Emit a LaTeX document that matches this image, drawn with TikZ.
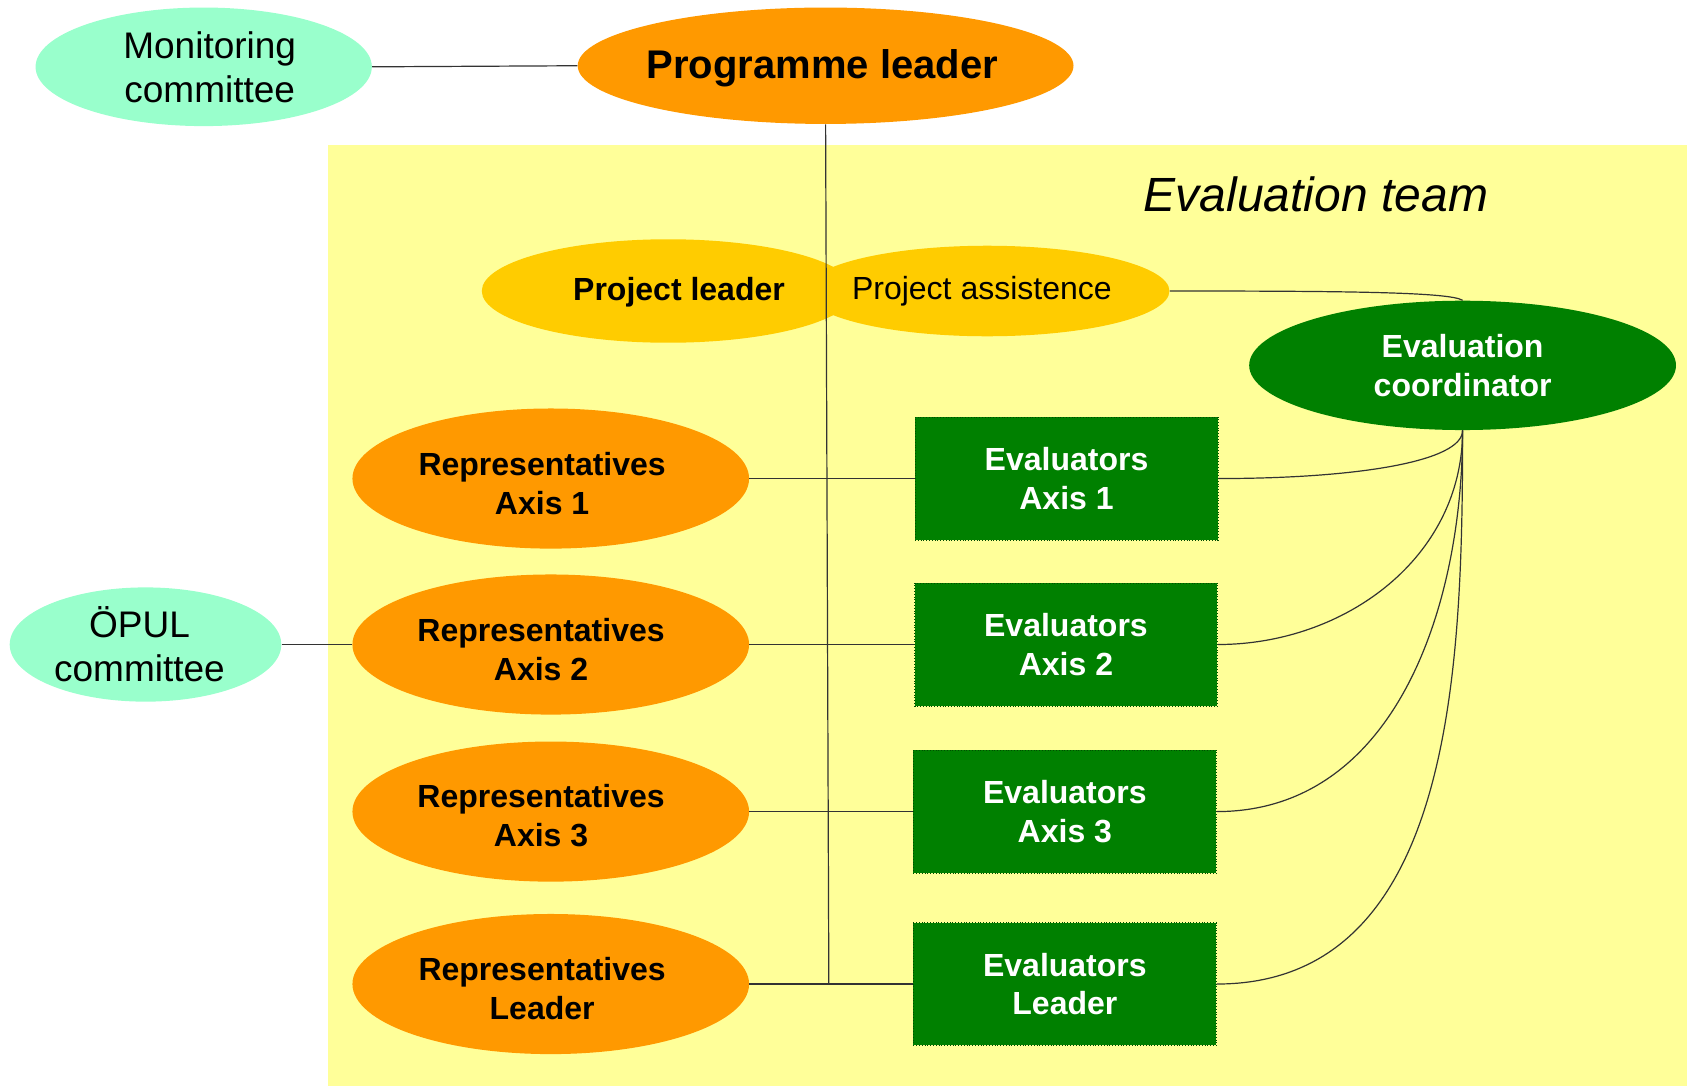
\documentclass[tikz,border=0pt]{standalone}
\usepackage{fontspec}
\setmainfont{Liberation Sans}
\usetikzlibrary{shapes.geometric}
\definecolor{bgyellow}{HTML}{FFFF99}
\definecolor{orangec}{HTML}{FF9900}
\definecolor{goldc}{HTML}{FFCC00}
\definecolor{greenc}{HTML}{008000}
\definecolor{mintc}{HTML}{99FFCC}
\def\pxu{0.53889pt}
\tikzset{
  ell/.style={ellipse, inner sep=0pt, align=center},
  mintell/.style={ell, fill=mintc, font=\fontsize{18.5}{22}\selectfont},
  repell/.style={ell, fill=orangec, minimum width=368*\pxu, minimum height=130*\pxu},
  reptext/.style={align=center, inner sep=0pt, font=\bfseries\fontsize{16}{19.4}\selectfont},
  evalbox/.style={rectangle, fill=greenc, draw=black!40!greenc, densely dotted, line width=0.4pt,
    text=white, font=\bfseries\fontsize{16}{19.4}\selectfont, align=center,
    minimum width=281*\pxu, minimum height=114*\pxu, inner sep=0pt},
  conn/.style={line width=0.6pt, draw=black!80},
}
\begin{document}
\begin{tikzpicture}[x=0.53889pt, y=-0.53889pt]
\useasboundingbox (0,0) rectangle (1568,1009);
% background of the evaluation team
\fill[bgyellow] (304,135) rectangle (1565,1008);
\node[font=\itshape\fontsize{24}{28}\selectfont] (team) at (1221,180) {Evaluation team};

% top row
\node[mintell, minimum width=312*\pxu, minimum height=110*\pxu] (mon) at (189,62) {\hspace*{6pt}Monitoring\\\hspace*{6pt}committee};
\node[ell, fill=orangec, minimum width=460*\pxu, minimum height=108*\pxu] (prog) at (766,61) {};
\node[font=\bfseries\fontsize{20}{24}\selectfont, inner sep=0pt] (progt) at (763,63) {Programme leader};

% project leader / assistence
\node[ell, fill=goldc, minimum width=346*\pxu, minimum height=96*\pxu] (projl) at (620,270) {};
\node[font=\bfseries\fontsize{16}{19}\selectfont, inner sep=0pt] (projlt) at (630,271) {Project leader};
\node[ell, fill=goldc, minimum width=338*\pxu, minimum height=84*\pxu] (pa) at (916,270) {};
\node[font=\fontsize{16}{19}\selectfont, inner sep=0pt] (pat) at (911,270) {Project assistence};

% evaluation coordinator
\node[ell, fill=greenc, text=white, font=\bfseries\fontsize{16}{19.4}\selectfont,
      minimum width=396*\pxu, minimum height=120*\pxu] (coord) at (1357,339) {Evaluation\\coordinator};

% representatives
\node[repell] (r1) at (511,444) {};
\node[repell] (r2) at (511,598) {};
\node[repell] (r3) at (511,753) {};
\node[repell] (r4) at (511,913) {};
\node[reptext] (r1t) at (503,449) {Representatives\\Axis 1};
\node[reptext] (r2t) at (502,603) {Representatives\\Axis 2};
\node[reptext] (r3t) at (502,757) {Representatives\\Axis 3};
\node[reptext] (r4t) at (503,917) {Representatives\\Leader};

% evaluators
\node[evalbox] (e1) at (989.5,444) {Evaluators\\Axis 1};
\node[evalbox] (e2) at (989,598) {Evaluators\\Axis 2};
\node[evalbox] (e3) at (988,753) {Evaluators\\Axis 3};
\node[evalbox] (e4) at (988,913) {Evaluators\\Leader};

% OePUL committee
\node[mintell, minimum width=252*\pxu, minimum height=106*\pxu] (opul) at (135,598) {\hspace*{-6pt}ÖPUL\\\hspace*{-6pt}committee};

% connectors
\coordinate (j) at (769,913);
\draw[conn] (mon.east) -- (prog.west);
\draw[conn] (prog.south) -- (j);
\draw[conn] (r1.east) -- (e1.west);
\draw[conn] (r2.east) -- (e2.west);
\draw[conn] (r3.east) -- (e3.west);
\draw[conn] (r4.east) -- (e4.west);
\draw[conn] (opul.east) -- (r2.west);
\draw[conn] (pa.east) .. controls (1250,270) and (1345,271) .. (coord.north);
\draw[conn] (coord.south) .. controls (1357,428) and (1260,444) .. (e1.east);
\draw[conn] (coord.south) to[out=-90,in=0] (e2.east);
\draw[conn] (coord.south) to[out=-90,in=0] (e3.east);
\draw[conn] (coord.south) to[out=-90,in=0] (e4.east);
\end{tikzpicture}
\end{document}
